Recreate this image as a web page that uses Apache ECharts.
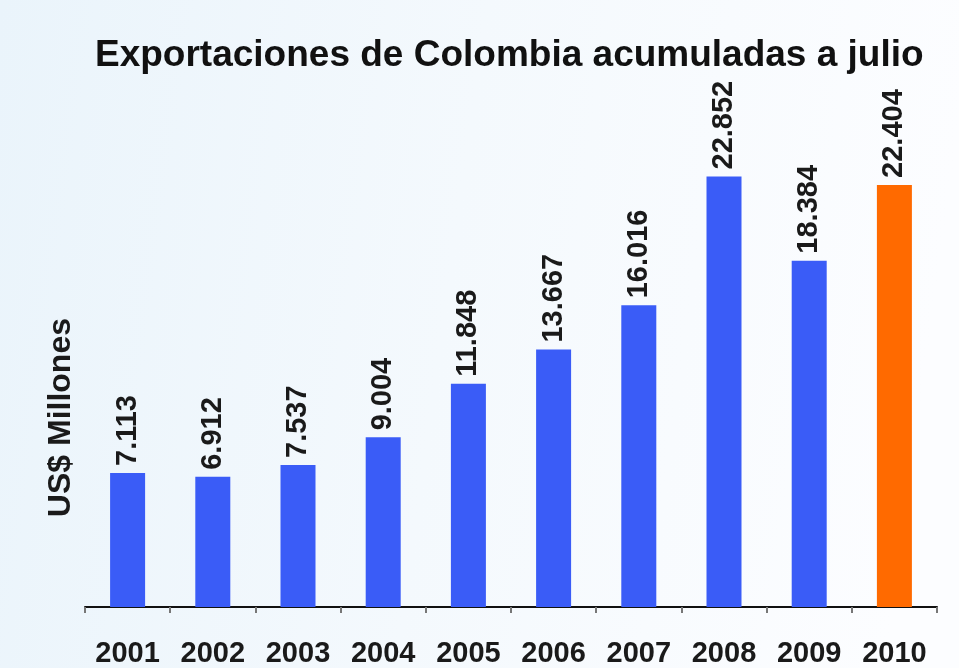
<!DOCTYPE html>
<html><head><meta charset="utf-8">
<script src="https://cdn.jsdelivr.net/npm/echarts@6/dist/echarts.min.js"></script>
<style>html,body{margin:0;padding:0}#c{width:959px;height:668px}</style>
</head><body><div id="c"></div>
<script>
const years = ['2001','2002','2003','2004','2005','2006','2007','2008','2009','2010'];
const values = [7.113, 6.912, 7.537, 9.004, 11.848, 13.667, 16.016, 22.852, 18.384, 22.404];
const labels = ['7.113','6.912','7.537','9.004','11.848','13.667','16.016','22.852','18.384','22.404'];
const barColors = ['#3a5cf7','#3a5cf7','#3a5cf7','#3a5cf7','#3a5cf7','#3a5cf7','#3a5cf7','#3a5cf7','#3a5cf7','#ff6a00'];
const titleText = 'Exportaciones de Colombia acumuladas a julio';
const yName = 'US$ Millones';

const chart = echarts.init(document.getElementById('c'));
const font = '"Liberation Sans", Arial, sans-serif';
chart.setOption({
  backgroundColor: {type:'linear', x:0, y:0, x2:1, y2:0.2, colorStops:[{offset:0,color:'#eaf4fb'},{offset:0.5,color:'#f4f9fd'},{offset:1,color:'#fcfdff'}]},
  animation: false,
  title: {text: titleText, left: 90, top: 32, textStyle:{fontFamily: font, fontWeight:'bold', fontSize:37, color:'#111'}},
  grid: {left: 85, right: 22, top: 136, bottom: 61},
  xAxis: {
    type:'category', data: years,
    axisLine:{show:true, lineStyle:{color:'#111', width:2}},
    axisTick:{show:true, length:6, lineStyle:{color:'#777', width:2}},
    axisLabel:{fontFamily: font, fontWeight:'bold', fontSize:29, color:'#1a1a1a', margin:32}
  },
  yAxis: {type:'value', min:0, max:25, show:false},
  graphic: [{type:'text', left: 45, top: 318, rotation: Math.PI/2,
    style:{text: yName, fontFamily: font, fontWeight:'bold', fontSize:32, fill:'#1a1a1a'}}],
  series: [{
    type:'bar', barWidth: 35,
    data: values.map((v,i)=>({value:v, itemStyle:{color:barColors[i]}, label:{formatter: labels[i]}})),
    label:{show:true, position:'top', rotate:90, align:'left', verticalAlign:'middle', distance:7,
      fontFamily: font, fontWeight:'bold', fontSize:29, color:'#1a1a1a'}
  }]
});
</script></body></html>
